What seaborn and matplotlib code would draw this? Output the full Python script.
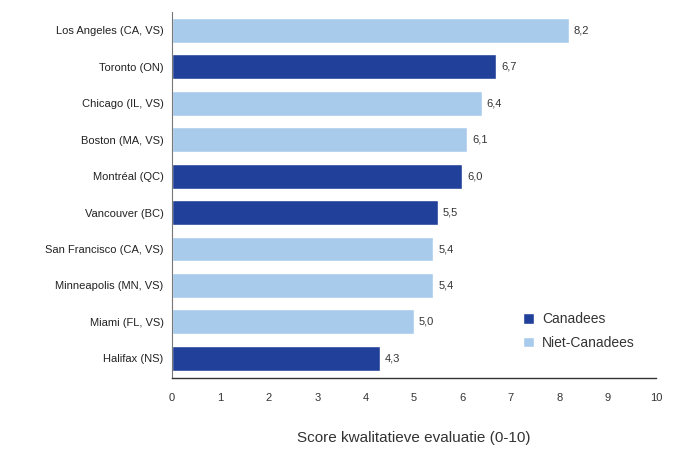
import matplotlib
matplotlib.use("Agg")
import matplotlib.pyplot as plt
import pandas as pd
import seaborn as sns

# data
steden = ["Los Angeles (CA, VS)", "Toronto (ON)", "Chicago (IL, VS)", "Boston (MA, VS)",
          "Montréal (QC)", "Vancouver (BC)", "San Francisco (CA, VS)",
          "Minneapolis (MN, VS)", "Miami (FL, VS)", "Halifax (NS)"]
scores = [8.2, 6.7, 6.4, 6.1, 6.0, 5.5, 5.4, 5.4, 5.0, 4.3]
groep = ["Niet-Canadees", "Canadees", "Niet-Canadees", "Niet-Canadees", "Canadees",
         "Canadees", "Niet-Canadees", "Niet-Canadees", "Niet-Canadees", "Canadees"]

df = pd.DataFrame({"stad": steden, "score": scores, "groep": groep})

sns.set_style("white")
plt.rcParams['font.family'] = ['Liberation Sans', 'DejaVu Sans']

kleuren = {"Canadees": "#21409a", "Niet-Canadees": "#a8cbec"}

fig = plt.figure(figsize=(6.73, 4.5), dpi=100)
ax = fig.add_axes([0.2556, 0.16, 0.7191, 0.813])

sns.barplot(data=df, x="score", y="stad", hue="groep", hue_order=["Canadees", "Niet-Canadees"],
            palette=kleuren, dodge=False, width=0.68, saturation=1, ax=ax)

# value labels
for i, v in enumerate(scores):
    ax.text(v + 0.1, i, f"{v:.1f}".replace(".", ","), va="center", ha="left",
            fontsize=8, color="#333333")

ax.set_xlim(0, 10)
ax.set_ylim(9.54, -0.38)
ax.set_xticks(range(0, 11))
ax.set_xlabel("Score kwalitatieve evaluatie (0-10)", fontsize=11, color="#333333", labelpad=20)
ax.set_ylabel("")

# y ticks at category boundaries, labels centred on bars
ax.set_yticks([i + 0.5 for i in range(-1, 10)], minor=False)
ax.set_yticklabels([])
ax.set_yticks(range(10), minor=True)
ax.set_yticklabels(steden, minor=True)
ax.tick_params(axis="y", which="minor", length=0, labelsize=8, labelcolor="#222222", pad=6)
ax.tick_params(axis="y", which="major", length=3, direction="out", color="#555555")
ax.tick_params(axis="x", length=4, direction="inout", labelsize=8, labelcolor="#333333",
               color="#333333", pad=9)

for s in ["top", "right"]:
    ax.spines[s].set_visible(False)
ax.spines["left"].set_color("#777777")
ax.spines["bottom"].set_color("#333333")
ax.spines["left"].set_linewidth(0.8)
ax.spines["bottom"].set_linewidth(1.0)

leg = ax.legend(loc="upper left", bbox_to_anchor=(0.725, 0.18), frameon=False, fontsize=10,
                borderpad=0, borderaxespad=0,
                handlelength=0.8, handleheight=0.8, handletextpad=0.6, labelspacing=0.7)
for t in leg.get_texts():
    t.set_color("#333333")

fig.savefig("out.png", dpi=100)
